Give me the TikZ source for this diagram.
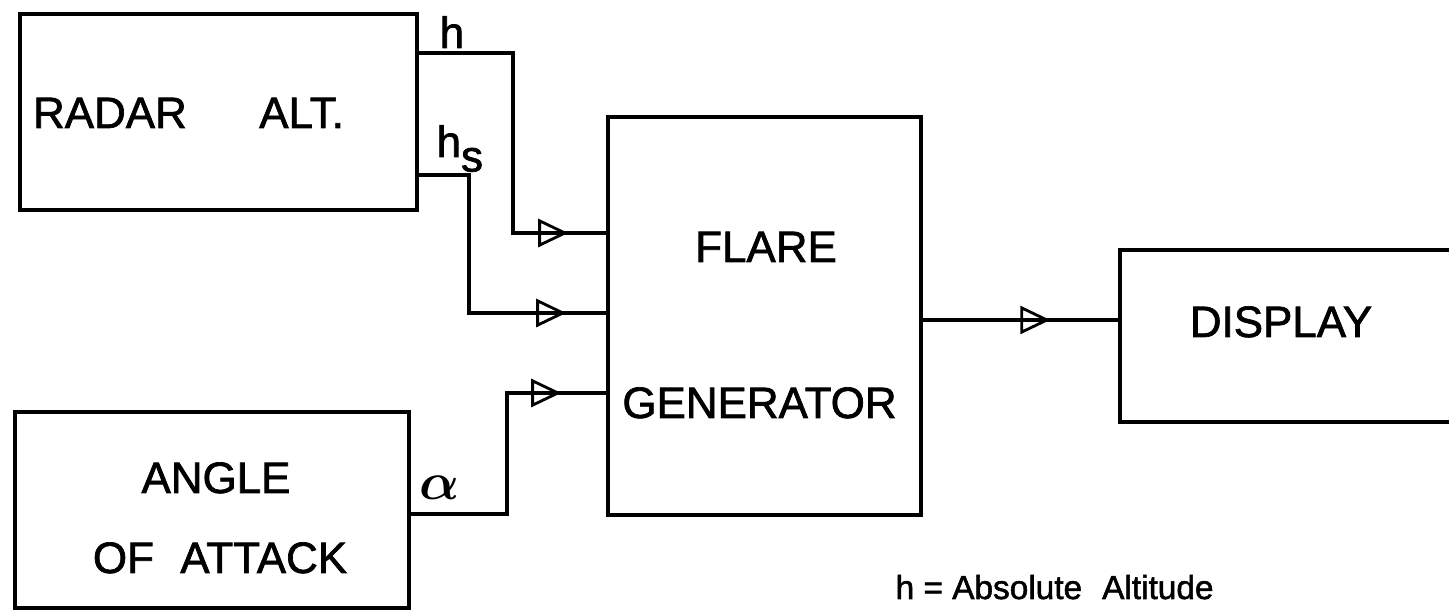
\documentclass[tikz,border=0pt]{standalone}
\usepackage{amsmath}
\usepackage{fontspec}
\setmainfont{Liberation Sans}
\newfontfamily\letterfont{Liberation Sans}[FakeBold=1.6]
\usetikzlibrary{arrows.meta,decorations.markings}
\begin{document}
\begin{tikzpicture}[line width=2pt,
  box/.style={draw,inner sep=0pt},
  lbl/.style={anchor=base,font=\letterfont\fontsize{25}{30}\selectfont},
  sig/.style={postaction={decorate},decoration={markings,
    mark=at position #1 with {\arrow[line width=1.6pt]{Triangle[open,length=0.6cm,width=0.56cm]}}}}]
  \useasboundingbox (0,0) rectangle (28.98,12.22);
  \clip (0,0) rectangle (28.98,12.22);
  % blocks
  \node[box,minimum width=7.94cm,minimum height=3.92cm] (radar) at (4.37,9.98) {};
  \node[box,minimum width=7.88cm,minimum height=3.92cm] (angle) at (4.24,2.02) {};
  \node[box,minimum width=6.26cm,minimum height=7.96cm] (flare) at (15.29,5.90) {};
  \node[box,minimum width=7.6cm,minimum height=3.44cm] (display) at (26.2,5.50) {};
  % texts in the blocks
  \node[lbl] (radartxt) at (3.77,9.66) {RADAR\hspace{1.65em}ALT.};
  \node[lbl] (angletxt) at (4.32,2.36) {ANGLE};
  \node[lbl] (oftxt) at (4.40,0.76) {OF\hspace{0.6em}ATTACK};
  \node[lbl] (flaretxt) at (15.32,6.98) {FLARE};
  \node[lbl] (gentxt) at (15.19,3.86) {GENERATOR};
  \node[lbl] (disptxt) at (25.62,5.48) {DISPLAY};
  % signals
  \draw[sig=-0.76cm] (radar.east |- 0,11.16) -| (10.26,7.56) -- (flare.west |- 0,7.56);
  \draw[sig=-0.8cm] (radar.east |- 0,8.72) -| (9.38,5.96) -- (flare.west |- 0,5.96);
  \draw[sig=-0.9cm] (angle.east |- 0,1.94) -| (10.14,4.36) -- (flare.west |- 0,4.36);
  \draw[sig=-1.36cm] (flare.east |- 0,5.82) -- (display.west |- 0,5.82);
  \node[lbl] (hlbl) at (9.04,11.26) {h};
  \node[lbl,anchor=base west] (hslbl) at (8.58,9.08) {h\raisebox{-0.33em}{s}};
  \node (alphalbl) at (8.80,2.46) {\scalebox{3}{$\boldsymbol{\alpha}$}};
  % note at the foot of the page
  \node[anchor=base west,font=\letterfont\fontsize{19}{23}\selectfont] (note) at (17.76,0.24) {h = Absolute\hspace{0.6em}Altitude};
\end{tikzpicture}
\end{document}
